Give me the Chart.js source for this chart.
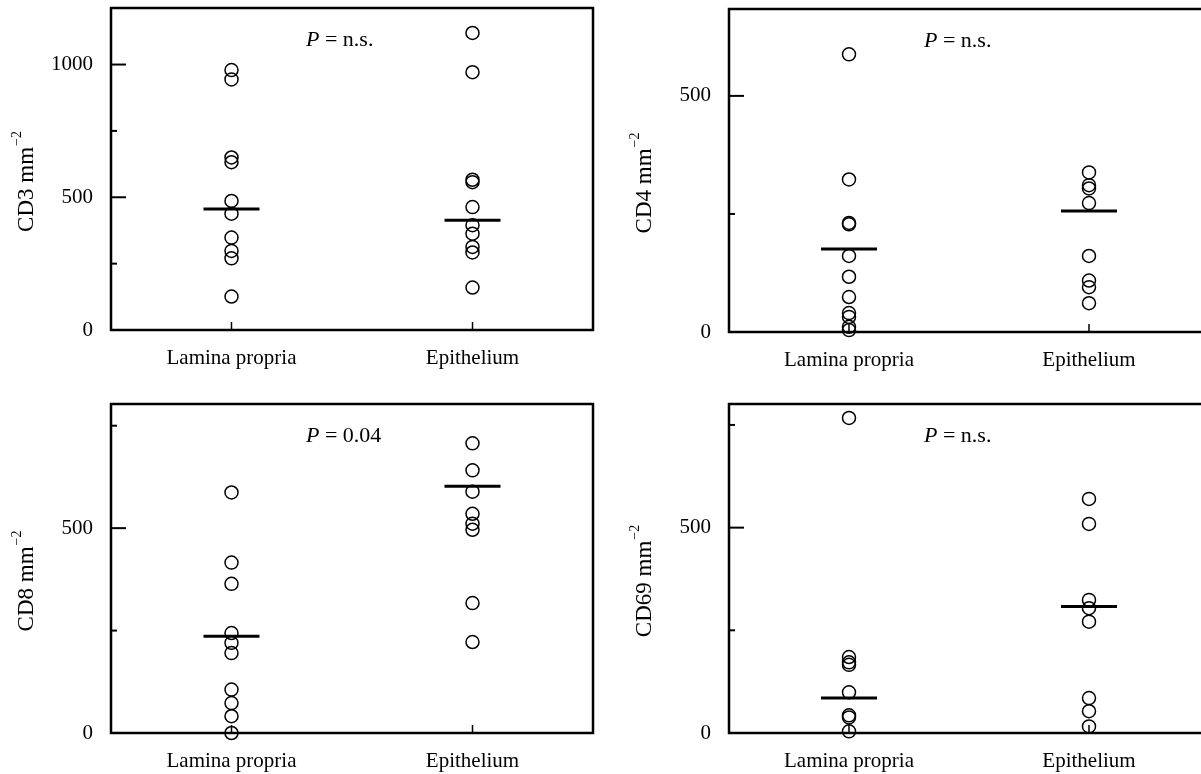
<!DOCTYPE html>
<html>
<head>
<meta charset="utf-8">
<script src="https://cdn.jsdelivr.net/npm/chart.js@4.4.0/dist/chart.umd.min.js"></script>
<style>
  html, body { margin: 0; padding: 0; background: #fff; overflow: hidden; }
  body { position: relative; width: 1201px; height: 774px; }
  .panel { position: absolute; }
</style>
</head>
<body>
<div class="panel" style="left:0;top:0;width:600px;height:380px"><canvas id="cd3"></canvas></div>
<div class="panel" style="left:600px;top:0;width:620px;height:380px"><canvas id="cd4"></canvas></div>
<div class="panel" style="left:0;top:380px;width:600px;height:394px"><canvas id="cd8"></canvas></div>
<div class="panel" style="left:600px;top:380px;width:620px;height:394px"><canvas id="cd69"></canvas></div>
<script>
const categories = ['Lamina propria', 'Epithelium'];

// CD3 mm^-2
const cd3Lamina = [979, 944, 650, 632, 486, 438, 348, 298, 270, 126];
const cd3Epi = [1119, 971, 566, 557, 463, 395, 363, 313, 292, 160];
const cd3Medians = [456, 413];

// CD4 mm^-2
const cd4Lamina = [588, 323, 231, 228, 161, 117, 74, 40, 32, 11, 4];
const cd4Epi = [338, 311, 304, 273, 161, 109, 95, 61];
const cd4Medians = [176, 256];

// CD8 mm^-2
const cd8Lamina = [587, 416, 364, 244, 220, 195, 106, 73, 41, 0];
const cd8Epi = [707, 641, 589, 535, 511, 496, 317, 222];
const cd8Medians = [236, 602];

// CD69 mm^-2
const cd69Lamina = [767, 185, 172, 166, 99, 43, 38, 4];
const cd69Epi = [570, 509, 324, 304, 271, 85, 53, 16];
const cd69Medians = [85, 308];

const pValues = ['n.s.', 'n.s.', '0.04', 'n.s.'];
const tickValues = [0, 250, 500, 750, 1000];
const majorTicks = [0, 500, 1000];

const FONT = 'Liberation Serif';

// frame, inward ticks, rotated y title and the P label
const decorPlugin = {
  id: 'panelDecor',
  afterDraw(chart, args, opts) {
    const { ctx, chartArea: a, scales } = chart;
    ctx.save();
    ctx.strokeStyle = '#000';
    ctx.fillStyle = '#000';

    ctx.lineWidth = 2.5;
    ctx.strokeRect(a.left, a.top, a.right - a.left, a.bottom - a.top);

    // y ticks pointing into the plot
    ctx.lineWidth = 2;
    scales.y.ticks.forEach(t => {
      const y = scales.y.getPixelForValue(t.value);
      const len = majorTicks.includes(t.value) ? 15 : 6;
      ctx.beginPath();
      ctx.moveTo(a.left, y);
      ctx.lineTo(a.left + len, y);
      ctx.stroke();
    });

    // x category ticks
    ctx.lineWidth = 1.5;
    categories.forEach((c, i) => {
      const x = scales.x.getPixelForTick(i);
      ctx.beginPath();
      ctx.moveTo(x, a.bottom);
      ctx.lineTo(x, a.bottom - 8);
      ctx.stroke();
    });

    // y title with superscript
    const cx = a.left - 84;
    const cy = (a.top + a.bottom) / 2 + 13;
    ctx.translate(cx, cy);
    ctx.rotate(-Math.PI / 2);
    ctx.textBaseline = 'middle';
    ctx.font = `23px "${FONT}"`;
    const main = opts.yLabel + ' mm';
    const mw = ctx.measureText(main).width;
    ctx.font = `14px "${FONT}"`;
    const sup = '\u22122';
    const sw = ctx.measureText(sup).width;
    const start = -(mw + sw) / 2;
    ctx.font = `23px "${FONT}"`;
    ctx.fillText(main, start, 0);
    ctx.font = `14px "${FONT}"`;
    ctx.fillText(sup, start + mw + 1, -10);
    ctx.setTransform(1, 0, 0, 1, 0, 0);

    // P value text
    const px = a.left + 195;
    const py = a.top + 32;
    ctx.textBaseline = 'middle';
    ctx.font = `italic 22px "${FONT}"`;
    ctx.fillText('P', px, py);
    const pw = ctx.measureText('P').width;
    ctx.font = `22px "${FONT}"`;
    ctx.fillText(' = ' + opts.pText, px + pw, py);
    ctx.restore();
  }
};

function makePanel(id, cfg) {
  const circle = {
    showLine: false,
    pointStyle: 'circle',
    pointRadius: 6.5,
    pointBorderWidth: 1.5,
    pointBorderColor: '#000',
    pointBackgroundColor: 'rgba(0,0,0,0)',
    clip: false
  };
  new Chart(document.getElementById(id), {
    type: 'scatter',
    data: {
      labels: categories,
      datasets: [
        { data: cfg.lamina.map(v => ({ x: categories[0], y: v })), ...circle },
        { data: cfg.epi.map(v => ({ x: categories[1], y: v })), ...circle },
        {
          data: cfg.medians.map((v, i) => ({ x: categories[i], y: v })),
          showLine: false,
          pointStyle: 'line',
          pointRadius: 28,
          pointBorderWidth: 3,
          pointBorderColor: '#000',
          clip: false
        }
      ]
    },
    options: {
      responsive: true,
      maintainAspectRatio: false,
      animation: false,
      events: [],
      layout: { autoPadding: false, padding: { top: cfg.padTop, right: cfg.padRight, left: 0, bottom: 0 } },
      plugins: {
        legend: { display: false },
        tooltip: { enabled: false },
        panelDecor: { yLabel: cfg.yLabel, pText: cfg.pText }
      },
      scales: {
        x: {
          type: 'category',
          offset: true,
          grid: { display: false, drawTicks: false },
          border: { display: false },
          ticks: { font: { family: FONT, size: 21 }, color: '#000', padding: 16, maxRotation: 0 },
          afterFit: s => { s.height = cfg.axisHeight; s.paddingLeft = 0; s.paddingRight = 0; }
        },
        y: {
          type: 'linear',
          min: 0,
          max: cfg.yMax,
          grid: { display: false, drawTicks: false },
          border: { display: false },
          afterBuildTicks: s => {
            s.ticks = tickValues.filter(v => v <= cfg.yMax).map(v => ({ value: v }));
          },
          ticks: {
            autoSkip: false,
            padding: 18,
            font: { family: FONT, size: 21 },
            color: '#000',
            callback: v => (majorTicks.includes(v) ? String(v) : '')
          },
          afterFit: s => { s.width = cfg.axisWidth; s.paddingTop = 0; s.paddingBottom = 0; }
        }
      }
    },
    plugins: [decorPlugin]
  });
}

makePanel('cd3', {
  lamina: cd3Lamina, epi: cd3Epi, medians: cd3Medians, yMax: 1213,
  yLabel: 'CD3', pText: pValues[0],
  axisWidth: 111, axisHeight: 50, padTop: 8, padRight: 7
});
makePanel('cd4', {
  lamina: cd4Lamina, epi: cd4Epi, medians: cd4Medians, yMax: 684,
  yLabel: 'CD4', pText: pValues[1],
  axisWidth: 129, axisHeight: 48, padTop: 9, padRight: 11
});
makePanel('cd8', {
  lamina: cd8Lamina, epi: cd8Epi, medians: cd8Medians, yMax: 803,
  yLabel: 'CD8', pText: pValues[2],
  axisWidth: 111, axisHeight: 41, padTop: 24, padRight: 7
});
makePanel('cd69', {
  lamina: cd69Lamina, epi: cd69Epi, medians: cd69Medians, yMax: 801,
  yLabel: 'CD69', pText: pValues[3],
  axisWidth: 129, axisHeight: 41, padTop: 24, padRight: 11
});
</script>
</body>
</html>
